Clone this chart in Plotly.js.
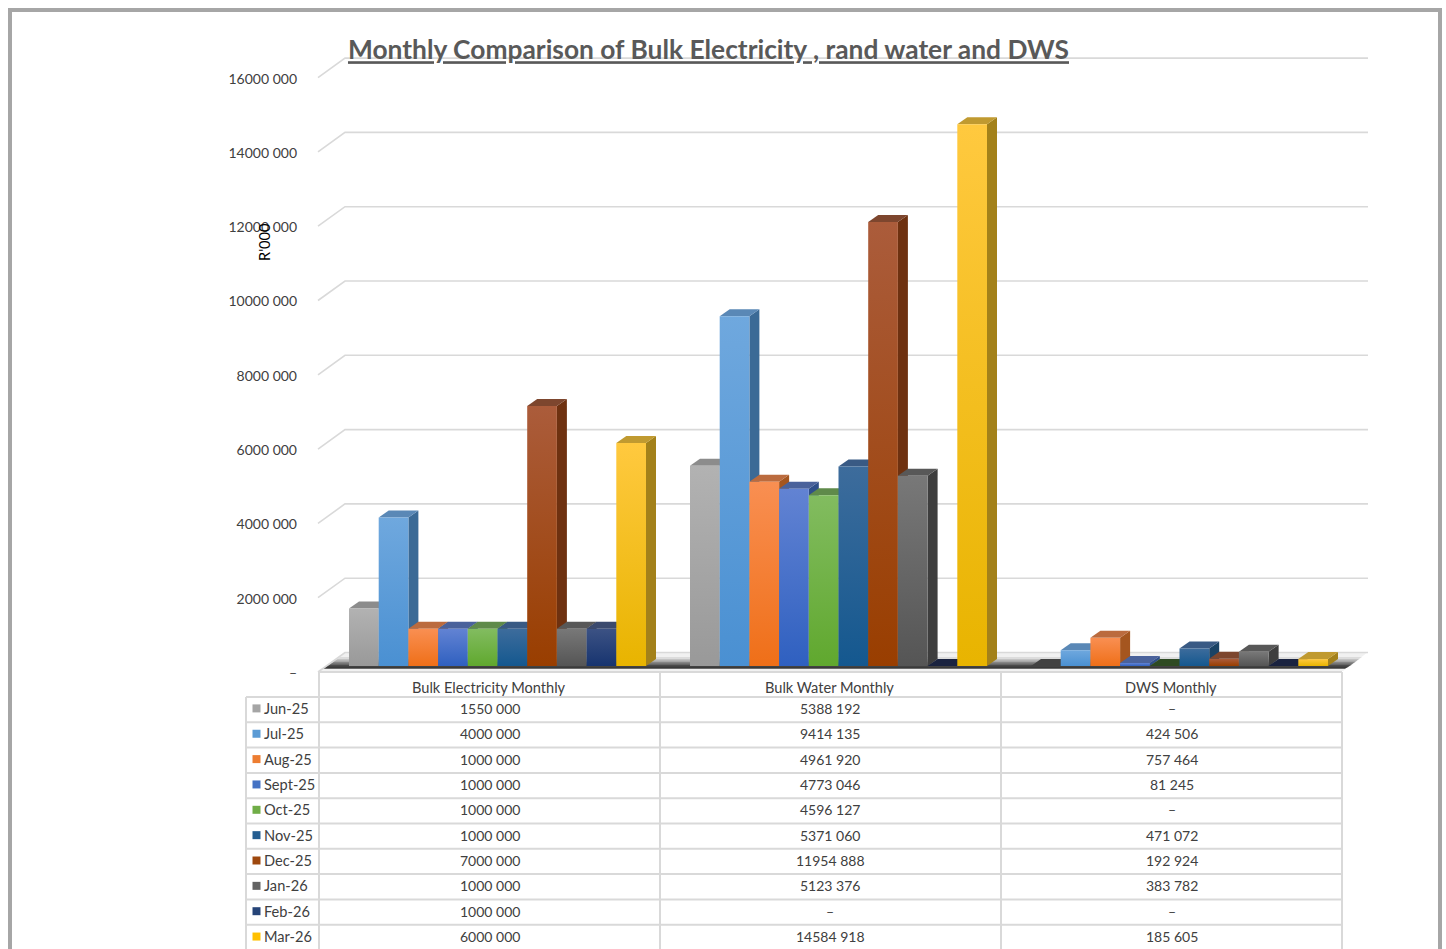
<!DOCTYPE html>
<html>
<head>
<meta charset="utf-8">
<script src="https://cdn.plot.ly/plotly-3.0.1.min.js"></script>
<style>html,body{margin:0;padding:0;background:#fff;overflow:hidden}</style>
</head>
<body>
<div id="chart" style="width:1446px;height:949px"></div>
<script>
const categories = ["Bulk Electricity Monthly", "Bulk Water Monthly", "DWS Monthly"];
const months = ["Jun-25","Jul-25","Aug-25","Sept-25","Oct-25","Nov-25","Dec-25","Jan-26","Feb-26","Mar-26"];
const bulkElectricity = [1550000,4000000,1000000,1000000,1000000,1000000,7000000,1000000,1000000,6000000];
const bulkWater = [5388192,9414135,4961920,4773046,4596127,5371060,11954888,5123376,0,14584918];
const dws = [0,424506,757464,81245,0,471072,192924,383782,0,185605];
const yTicks = [0,2000000,4000000,6000000,8000000,10000000,12000000,14000000,16000000];
const chartTitle = "Monthly Comparison of Bulk Electricity , rand water and DWS";

const keyColors = ["#a5a5a5","#5b9bd5","#ed7d31","#4472c4","#70ad47","#255e91","#9e480e","#636363","#264478","#ffc000"];
const gradTop   = ["#b2b2b2","#6fa8de","#f98f52","#6283d3","#82bc60","#3d6c9c","#ab5c3b","#787878","#3c5284","#ffc93f"];
const gradBot   = ["#999999","#4a90d2","#ef6f18","#2f60c0","#60a82e","#14588f","#993e00","#555555","#17346f","#e8b400"];
const sideCol   = ["#777777","#3b6a96","#a5561f","#2f4f8a","#4d7a30","#1a4366","#6e3110","#3e3e3e","#1a2f55","#a3811a"];
const topCol    = ["#8c8c8c","#5a88b6","#bb6b3e","#4a629b","#5f8a4a","#395a84","#7d462e","#585858","#3b4a6e","#c09a30"];
const zeroCol   = ["#424242","#2c4c6c","#7a4018","#22386a","#2e4a22","#14304a","#50240c","#2e2e2e","#1a2340","#7a6014"];

const W = 1446, H = 949;
const pxPerUnit = 37.15 / 1e6, groupPx = 341, zeroPx = 666, x0Px = 497.5;
const plotL = 300, plotR = 1380, plotT = 40, plotB = 680;
const barPx = 29.7, depthX = 10, depthY = 7;

const X = px => (px - x0Px) / groupPx;
const Y = px => (zeroPx - px) / pxPerUnit;
const dY = px => px / pxPerUnit;
const PX = px => px / W;
const PY = px => 1 - px / H;

function fmt(v) {
  if (!v) return "–";
  const s = String(v);
  return s.slice(0, -3) + " " + s.slice(-3);
}

const seriesByCat = [bulkElectricity, bulkWater, dws];
const shapes = [];

function poly(pts, fill, op) {
  return {type:"path", xref:"x", yref:"y", layer:"below",
    path:"M" + pts.map(p => X(p[0]) + "," + Y(p[1])).join(" L") + " Z",
    fillcolor:fill, opacity:op === undefined ? 1 : op, line:{width:0}};
}

// floor
shapes.push(poly([[320,671],[1343,671],[1368,652],[345,652]], "#f1f1f1"));
[[657,0.10],[659,0.14],[660.5,0.18],[662,0.26],[663.5,0.34],[665,0.45],[666.5,0.5]].forEach(s => {
  const yy = s[0], sh = (670 - yy) * 25 / 19;
  shapes.push(poly([[323,668.5],[1345,668.5],[1345 + sh,yy],[323 + sh,yy]], "#2a2a2a", s[1]));
});

// gridlines on the wall
yTicks.forEach(v => {
  const yf = Y(zeroPx) + v;
  shapes.push({type:"path", xref:"x", yref:"y", layer:"below",
    path:"M" + X(318) + "," + (yf - dY(6)) + " L" + X(345) + "," + (yf + dY(13.5)) + " L" + X(1368) + "," + (yf + dY(13.5)),
    line:{color:"#d9d9d9", width:1.6}, fillcolor:"rgba(0,0,0,0)"});
});

// depth faces
seriesByCat.forEach((vals, c) => {
  vals.forEach((v, k) => {
    const l = X(x0Px) + c - (5 - k) * barPx / groupPx;
    const r = l + barPx / groupPx, dx = depthX / groupPx, dy = dY(depthY);
    const p = a => "M" + a.map(q => q[0] + "," + q[1]).join(" L") + " Z";
    shapes.push({type:"path", xref:"x", yref:"y", layer:"below", fillcolor:sideCol[k], line:{width:0},
      path:p([[r,0],[r + dx,dy],[r + dx,v + dy],[r,v]])});
    shapes.push({type:"path", xref:"x", yref:"y", layer:"below", fillcolor:v ? topCol[k] : zeroCol[k], line:{width:0},
      path:p([[l,v],[r,v],[r + dx,v + dy],[l + dx,v + dy]])});
  });
});

// data table under the plot
const colEdges = [319, 660, 1001, 1342];
const rowEdge = k => 697 + 25.3 * k;
const rowMid = k => 708.4 + 25.35 * k;
const tableLine = {color:"#d9d9d9", width:2};
const seg = (x0, y0, x1, y1) => ({type:"line", xref:"paper", yref:"paper", x0:PX(x0), y0:PY(y0), x1:PX(x1), y1:PY(y1), line:tableLine, layer:"above"});
shapes.push(seg(319, 672, 1342, 672));
colEdges.forEach(x => shapes.push(seg(x, 672, x, 949)));
shapes.push(seg(246, 697, 246, 949));
months.forEach((m, k) => shapes.push(seg(246, rowEdge(k), 1342, rowEdge(k))));
months.forEach((m, k) => shapes.push({type:"rect", xref:"paper", yref:"paper",
  x0:PX(252.5), x1:PX(260.5), y0:PY(rowMid(k) - 4), y1:PY(rowMid(k) + 4),
  fillcolor:keyColors[k], line:{width:0}, layer:"above"}));

const annotations = [];
const cellText = (text, xPx, yPx, anchor, size) => annotations.push({text:text, xref:"paper", yref:"paper",
  x:PX(xPx), y:PY(yPx), showarrow:false, xanchor:anchor, yanchor:"middle",
  font:{family:"Lato", size:size, color:"#404040"}});
categories.forEach((c, i) => cellText(c, (colEdges[i] + colEdges[i + 1]) / 2 - 1, 687, "center", 14.6));
months.forEach((m, k) => {
  cellText(m, 262, rowMid(k), "left", 14.6);
  seriesByCat.forEach((s, i) => cellText(fmt(s[k]), (colEdges[i] + colEdges[i + 1]) / 2, rowMid(k), "center", 14));
});
annotations.push({text:"R'000", xref:"paper", yref:"paper", x:PX(264), y:PY(242), showarrow:false,
  textangle:-90, xanchor:"center", yanchor:"middle", font:{family:"Lato", size:14.6, color:"#000000"}});

// outer frame
shapes.push({type:"rect", xref:"paper", yref:"paper", x0:PX(10), x1:PX(1440), y0:-0.05, y1:PY(10),
  line:{color:"#a6a6a6", width:4}, fillcolor:"rgba(0,0,0,0)", layer:"above"});

const traces = months.map((m, k) => ({
  type:"bar", name:m, x:[0,1,2], y:seriesByCat.map(s => s[k]),
  marker:{color:keyColors[k], line:{width:0}},
  text:categories, hoverinfo:"name+y+text", textposition:"none"
}));

const layout = {
  width:W, height:H, autosize:false,
  margin:{l:0,r:0,t:0,b:0},
  paper_bgcolor:"#ffffff", plot_bgcolor:"rgba(0,0,0,0)",
  showlegend:false,
  barmode:"group", bargap:44/341, bargroupgap:0,
  font:{family:"Lato", size:15, color:"#404040"},
  title:{text:chartTitle, x:708.5/W, xanchor:"center", y:PY(50), yanchor:"middle",
    font:{family:"Lato", size:26.35, color:"#595959", weight:700, lineposition:"under"}},
  xaxis:{domain:[PX(plotL), PX(plotR)], range:[X(plotL), X(plotR)], visible:false, fixedrange:true},
  yaxis:{domain:[PY(plotB), PY(plotT)], range:[Y(plotB), Y(plotT)],
    tickmode:"array", tickvals:yTicks, ticktext:yTicks.map(fmt),
    showgrid:false, zeroline:false, showline:false, ticks:"", ticklabelshift:7, ticklabelstandoff:2,
    tickfont:{family:"Lato", size:14, color:"#404040"}, fixedrange:true},
  shapes:shapes,
  annotations:annotations
};

Plotly.newPlot("chart", traces, layout, {displayModeBar:false}).then(gd => {
  const svg = gd.querySelector(".main-svg");
  const NS = "http://www.w3.org/2000/svg";
  const defs = svg.querySelector("defs") || svg.insertBefore(document.createElementNS(NS,"defs"), svg.firstChild);
  months.forEach((m, k) => {
    const g = document.createElementNS(NS,"linearGradient");
    g.setAttribute("id","barGrad"+k);
    g.setAttribute("x1","0"); g.setAttribute("y1","0"); g.setAttribute("x2","0"); g.setAttribute("y2","1");
    [[0,gradTop[k]],[1,gradBot[k]]].forEach(st => {
      const s = document.createElementNS(NS,"stop");
      s.setAttribute("offset",st[0]); s.setAttribute("stop-color",st[1]);
      g.appendChild(s);
    });
    defs.appendChild(g);
  });
  gd.querySelectorAll(".barlayer .trace.bars").forEach((t, k) => {
    t.querySelectorAll("path").forEach(p => { p.style.fill = "url(#barGrad"+k+")"; });
  });
});
</script>
</body>
</html>
